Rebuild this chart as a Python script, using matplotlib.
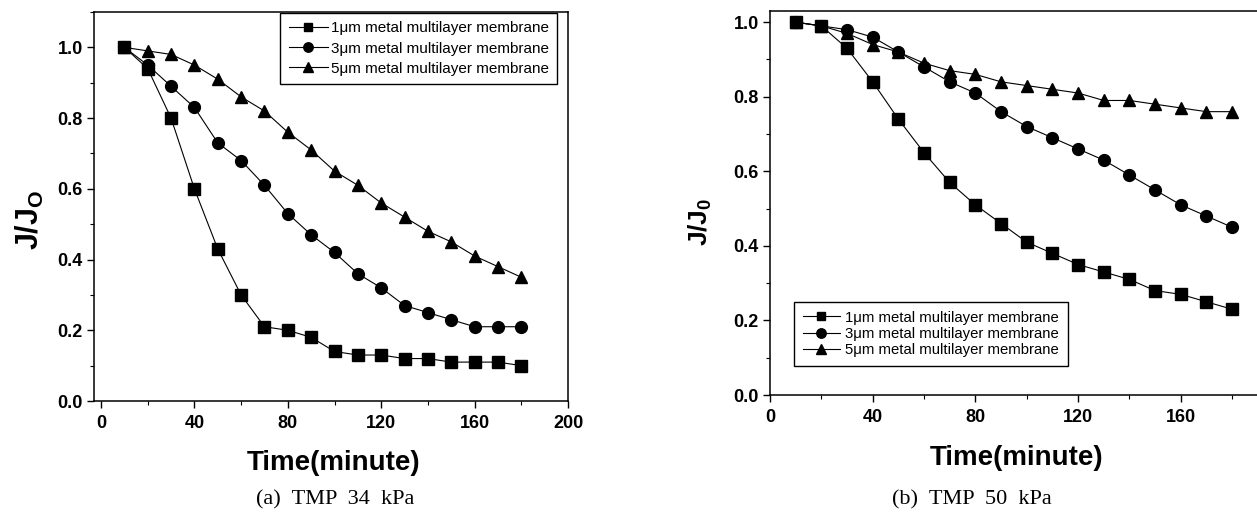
import numpy as np
import matplotlib.pyplot as plt
from matplotlib.ticker import MultipleLocator

plt.rcParams['font.family'] = ['Liberation Sans', 'DejaVu Sans']
plt.rcParams['mathtext.fontset'] = 'custom'
plt.rcParams['mathtext.bf'] = 'Liberation Sans:bold'
plt.rcParams['mathtext.rm'] = 'Liberation Sans'

# time points (minute)
time = [10, 20, 30, 40, 50, 60, 70, 80, 90, 100, 110, 120, 130, 140, 150, 160, 170, 180]

# (a) TMP 34 kPa
a_1um = [1.00, 0.94, 0.80, 0.60, 0.43, 0.30, 0.21, 0.20, 0.18, 0.14, 0.13, 0.13, 0.12, 0.12, 0.11, 0.11, 0.11, 0.10]
a_3um = [1.00, 0.95, 0.89, 0.83, 0.73, 0.68, 0.61, 0.53, 0.47, 0.42, 0.36, 0.32, 0.27, 0.25, 0.23, 0.21, 0.21, 0.21]
a_5um = [1.00, 0.99, 0.98, 0.95, 0.91, 0.86, 0.82, 0.76, 0.71, 0.65, 0.61, 0.56, 0.52, 0.48, 0.45, 0.41, 0.38, 0.35]

# (b) TMP 50 kPa
b_1um = [1.00, 0.99, 0.93, 0.84, 0.74, 0.65, 0.57, 0.51, 0.46, 0.41, 0.38, 0.35, 0.33, 0.31, 0.28, 0.27, 0.25, 0.23]
b_3um = [1.00, 0.99, 0.98, 0.96, 0.92, 0.88, 0.84, 0.81, 0.76, 0.72, 0.69, 0.66, 0.63, 0.59, 0.55, 0.51, 0.48, 0.45]
b_5um = [1.00, 0.99, 0.97, 0.94, 0.92, 0.89, 0.87, 0.86, 0.84, 0.83, 0.82, 0.81, 0.79, 0.79, 0.78, 0.77, 0.76, 0.76]

labels = ["1μm metal multilayer membrane",
          "3μm metal multilayer membrane",
          "5μm metal multilayer membrane"]
markers = ['s', 'o', '^']
msizes = [8, 8.5, 9]

fig = plt.figure(figsize=(12.57, 5.18), dpi=100)
W, H = 1257, 518

# axes placed from pixel boxes
ax1 = fig.add_axes([94 / W, 1 - 401 / H, (568 - 94) / W, (401 - 12) / H])
ax2 = fig.add_axes([770 / W, 1 - 395 / H, (1257 - 770) / W, (395 - 11) / H])


def style_axes(ax):
    for s in ax.spines.values():
        s.set_linewidth(1.1)
    ax.tick_params(which='both', direction='out', top=False, right=False)
    ax.tick_params(which='major', length=5, width=1.0, labelsize=13)
    ax.tick_params(which='minor', length=3, width=0.8)
    ax.tick_params(axis='y', which='major', pad=3)
    ax.tick_params(axis='x', which='major', pad=5)
    ax.xaxis.set_major_locator(MultipleLocator(40))
    ax.xaxis.set_minor_locator(MultipleLocator(20))
    ax.yaxis.set_major_locator(MultipleLocator(0.2))
    ax.yaxis.set_minor_locator(MultipleLocator(0.1))
    ax.yaxis.set_major_formatter(plt.FormatStrFormatter('%.1f'))
    for lab in ax.get_xticklabels() + ax.get_yticklabels():
        lab.set_fontweight('bold')


# panel (a)
for ys, m, ms, lab in zip([a_1um, a_3um, a_5um], markers, msizes, labels):
    ax1.plot(time, ys, color='black', lw=0.8, marker=m, ms=ms, label=lab)
ax1.set_xlim(-3, 200)
ax1.set_ylim(0, 1.1)
style_axes(ax1)
ax1.legend(loc='upper right', bbox_to_anchor=(557 / W, 1 - 13 / H), bbox_transform=fig.transFigure,
           borderaxespad=0, fontsize=11, frameon=True, fancybox=False, framealpha=1,
           edgecolor='black', handlelength=2.6, handletextpad=0.15, labelspacing=0.4,
           borderpad=0.55, markerscale=0.8)

# panel (b)
for ys, m, ms, lab in zip([b_1um, b_3um, b_5um], markers, msizes, labels):
    ax2.plot(time, ys, color='black', lw=0.8, marker=m, ms=ms, label=lab)
ax2.set_xlim(0, 189.7)
ax2.set_ylim(0, 1.03)
style_axes(ax2)
ax2.spines['right'].set_linewidth(0.6)
ax2.legend(loc='lower left', bbox_to_anchor=(794 / W, 1 - 366 / H), bbox_transform=fig.transFigure,
           borderaxespad=0, fontsize=10.7, frameon=True, fancybox=False, framealpha=1,
           edgecolor='black', handlelength=2.5, handletextpad=0.35, labelspacing=0.15,
           borderpad=0.6, markerscale=0.8)

# axis labels and captions
fig.text(30 / W, 1 - 220 / H, r'$\mathbf{J/J_O}$', rotation=90, fontsize=22, ha='center', va='center')
fig.text(700 / W, 1 - 222 / H, r'$\mathbf{J/J_0}$', rotation=90, fontsize=19, ha='center', va='center')
fig.text(334 / W, 1 - 463 / H, 'Time(minute)', fontsize=20, fontweight='bold', ha='center', va='center')
fig.text(1017 / W, 1 - 458 / H, 'Time(minute)', fontsize=20, fontweight='bold', ha='center', va='center')
fig.text(335 / W, 1 - 500 / H, '(a)  TMP  34  kPa', fontsize=16, family='Liberation Serif', ha='center', va='center')
fig.text(972 / W, 1 - 500 / H, '(b)  TMP  50  kPa', fontsize=16, family='Liberation Serif', ha='center', va='center')

fig.savefig('out.png', dpi=100)
